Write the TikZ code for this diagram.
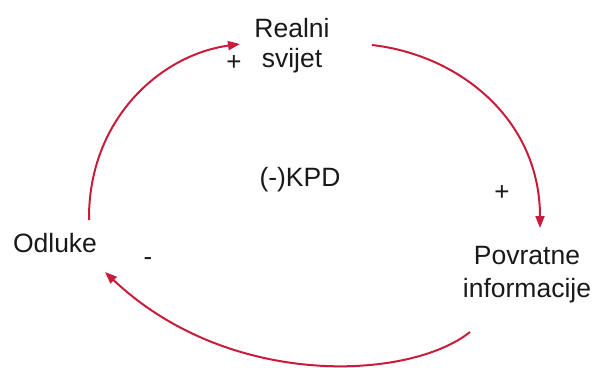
\documentclass[tikz,border=0pt]{standalone}
\usepackage{fontspec}
\setmainfont{Liberation Sans}
\usetikzlibrary{arrows.meta}
\definecolor{loopred}{RGB}{200,28,58}
\tikzset{
  lbl/.style={inner sep=0pt, align=center, text=black!90},
  sign/.style={inner sep=0pt, text=black!90},
  link/.style={draw=loopred, line width=2pt, -{Triangle[length=12pt,width=9pt]}}
}
\begin{document}
\begin{tikzpicture}[x=1pt,y=-1pt]
  \useasboundingbox (0,0) rectangle (594,367);
  % variables of the loop
  \node[lbl, font=\fontsize{26.5}{30}\selectfont] (real) at (292,46) {Realni\\svijet};
  \node[lbl, font=\fontsize{26.5}{33}\selectfont] (info) at (527,275) {Povratne\\informacije};
  \node[lbl, font=\fontsize{26.5}{30}\selectfont] (odl) at (55,243.5) {Odluke};
  \node[lbl, font=\fontsize{26.5}{30}\selectfont] (kpd) at (300,180) {(-)KPD};
  % polarity signs
  \node[sign, font=\fontsize{26}{30}\selectfont] (p1) at (234,63) {+};
  \node[sign, font=\fontsize{26}{30}\selectfont] (p2) at (502,193) {+};
  \node[sign, font=\fontsize{26}{30}\selectfont] (m1) at (148,262) {-};
  % connectors around the loop
  \coordinate (a0) at (89,220);
  \coordinate (a1) at (240,44);
  \coordinate (b0) at (372,45);
  \coordinate (b1) at (540,228);
  \coordinate (c0) at (470,332);
  \coordinate (c1) at (105,272);
  \draw[link] (a0) .. controls (88,120) and (160,55) .. (a1);
  \draw[link] (b0) .. controls (460,55) and (540,120) .. (b1);
  \draw[link] (c0) .. controls (410,380) and (230,390) .. (c1);
\end{tikzpicture}
\end{document}
